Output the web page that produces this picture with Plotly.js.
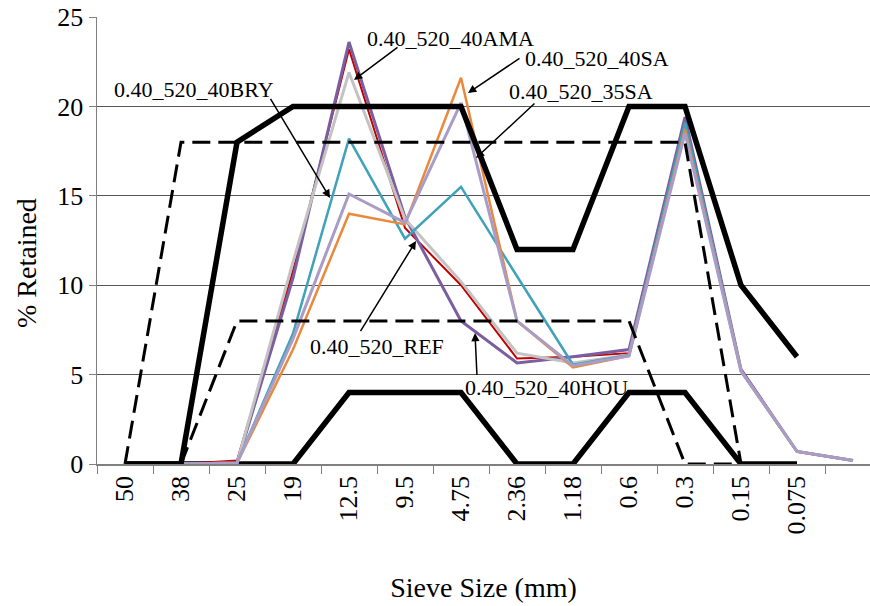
<!DOCTYPE html>
<html>
<head>
<meta charset="utf-8">
<script src="https://cdn.plot.ly/plotly-3.0.1.min.js"></script>
<style>html,body{margin:0;padding:0;background:#fff;}#chart{width:870px;height:606px;}</style>
</head>
<body>
<div id="chart"></div>
<script>
// Sieve sizes (mm); last category is the pan (no label)
const categories = ['50','38','25','19','12.5','9.5','4.75','2.36','1.18','0.6','0.3','0.15','0.075','Pan'];
const tickLabels = ['50','38','25','19','12.5','9.5','4.75','2.36','1.18','0.6','0.3','0.15','0.075',''];

// Specification limits (% retained)
const upperLimit = [0, 0, 18, 20, 20, 20, 20, 12, 12, 20, 20, 10, 6];
const lowerLimit = [0, 0, 0, 0, 4, 4, 4, 0, 0, 4, 4, 0, 0];
const outerBand  = [0, 18, 18, 18, 18, 18, 18, 18, 18, 18, 18, 0];
const innerBand  = [null, 0, 8, 8, 8, 8, 8, 8, 8, 8, 0, 0];

// Mixture gradations (% retained)
const mixREF   = [null, 0, 0.2, 10.8, 23.2, 13.2, 10.0, 5.9, 6.0, 6.2, 19.2, 5.3, 0.7, 0.2];
const mix40HOU = [null, 0, 0.05, 10.4, 23.6, 13.8, 8.0, 5.65, 6.0, 6.4, 19.4, 5.3, 0.7, 0.2];
const mix40AMA = [null, 0, 0.05, 11.3, 21.9, 13.7, 10.2, 6.2, 5.65, 6.1, 18.9, 5.2, 0.7, 0.2];
const mix40BRY = [null, 0, 0.05, 7.3, 18.2, 12.6, 15.5, 10.5, 5.55, 6.1, 19.1, 5.2, 0.7, 0.2];
const mix40SA  = [null, 0, 0.05, 6.4, 14.0, 13.4, 21.6, 8.0, 5.4, 6.05, 18.7, 5.2, 0.7, 0.2];
const mix35SA  = [null, 0, 0.05, 7.0, 15.1, 13.5, 20.2, 8.0, 5.5, 6.05, 18.5, 5.2, 0.7, 0.2];

const FONT = 'Liberation Serif, Times New Roman, serif';

function xs(arr) { return categories.slice(0, arr.length); }
function line(name, vals, color, width, dash) {
  return {type: 'scatter', mode: 'lines', name: name, x: xs(vals), y: vals,
          line: {color: color, width: width, dash: dash || 'solid'},
          connectgaps: false, hoverinfo: 'skip'};
}

const traces = [
  line('Lower limit', lowerLimit, '#000000', 5.5),
  line('0.40_520_REF', mixREF, '#C00000', 2),
  line('0.40_520_40HOU', mix40HOU, '#7B5EA0', 3),
  line('0.40_520_40AMA', mix40AMA, '#C3C3C3', 3),
  line('0.40_520_40BRY', mix40BRY, '#3FA2B8', 2.5),
  line('0.40_520_40SA', mix40SA, '#E9893C', 2.5),
  line('0.40_520_35SA', mix35SA, '#A99CC6', 3),
  line('Upper limit', upperLimit, '#000000', 5.5),
  line('Outer band', outerBand, '#000000', 3, '18px,8px'),
  line('Inner band', innerBand, '#000000', 3, '18px,8px')
];

// plot area geometry (pixels)
const L = 97, T = 17, W = 773, H = 447;
function px(x) { return (x - L) / W; }
function py(y) { return (T + H - y) / H; }

const labels = [
  {text: '0.40_520_40AMA', x: 365, y: 38},
  {text: '0.40_520_40SA', x: 523, y: 58},
  {text: '0.40_520_35SA', x: 507, y: 92},
  {text: '0.40_520_40BRY', x: 112, y: 89},
  {text: '0.40_520_REF', x: 308, y: 346},
  {text: '0.40_520_40HOU', x: 463, y: 387}
];
const arrows = [
  {tail: [398, 47], tip: [354, 80]},
  {tail: [520, 58], tip: [468, 93]},
  {tail: [535, 103], tip: [476, 158]},
  {tail: [270, 98], tip: [330, 198]},
  {tail: [360, 332], tip: [416, 241]},
  {tail: [477, 376], tip: [475, 333]}
];

const annotations = [];
labels.forEach(function (l) {
  annotations.push({xref: 'paper', yref: 'paper', x: px(l.x), y: py(l.y), xanchor: 'left', yanchor: 'middle',
    text: l.text, showarrow: false, font: {family: FONT, size: 22, color: '#000'}});
});
arrows.forEach(function (a) {
  annotations.push({xref: 'paper', yref: 'paper', x: px(a.tip[0]), y: py(a.tip[1]),
    ax: a.tail[0] - a.tip[0], ay: a.tail[1] - a.tip[1], axref: 'pixel', ayref: 'pixel',
    text: ' ', font: {size: 1}, borderpad: 0, showarrow: true, arrowhead: 2, arrowsize: 1.1,
    arrowwidth: 1.5, arrowcolor: '#000', standoff: 0, startstandoff: 0});
});
// y-axis title placed as in the reference (slightly below plot centre)
annotations.push({xref: 'paper', yref: 'paper', x: px(26), y: py(263), xanchor: 'center', yanchor: 'middle',
  text: '% Retained', textangle: -90, showarrow: false, font: {family: FONT, size: 28, color: '#000'}});

const layout = {
  width: 870, height: 606,
  margin: {l: L, r: 870 - L - W, t: T, b: 606 - T - H, pad: 0},
  paper_bgcolor: '#fff', plot_bgcolor: '#fff',
  showlegend: false,
  font: {family: FONT, color: '#000'},
  xaxis: {
    type: 'category', categoryorder: 'array', categoryarray: categories,
    tickmode: 'array', tickvals: categories, ticktext: tickLabels,
    tickson: 'boundaries', ticks: 'outside', ticklen: 8, tickcolor: '#808080', tickwidth: 1,
    tickangle: -90, tickfont: {family: FONT, size: 26, color: '#000'},
    range: [-0.5, -0.5 + W / 56],
    showgrid: false, showline: true, linecolor: '#808080', linewidth: 1.5, zeroline: false,
    title: {text: 'Sieve Size (mm)', font: {family: FONT, size: 28, color: '#000'}, standoff: 44}
  },
  yaxis: {
    range: [0, 25], tickmode: 'array', tickvals: [0, 5, 10, 15, 20, 25],
    ticks: 'outside', ticklen: 7, tickcolor: '#808080',
    tickfont: {family: FONT, size: 26, color: '#000'},
    showgrid: true, gridcolor: '#555', gridwidth: 1,
    showline: true, linecolor: '#808080', linewidth: 1.5, zeroline: false
  },
  annotations: annotations
};

Plotly.newPlot('chart', traces, layout, {displayModeBar: false, staticPlot: true});
</script>
</body>
</html>
